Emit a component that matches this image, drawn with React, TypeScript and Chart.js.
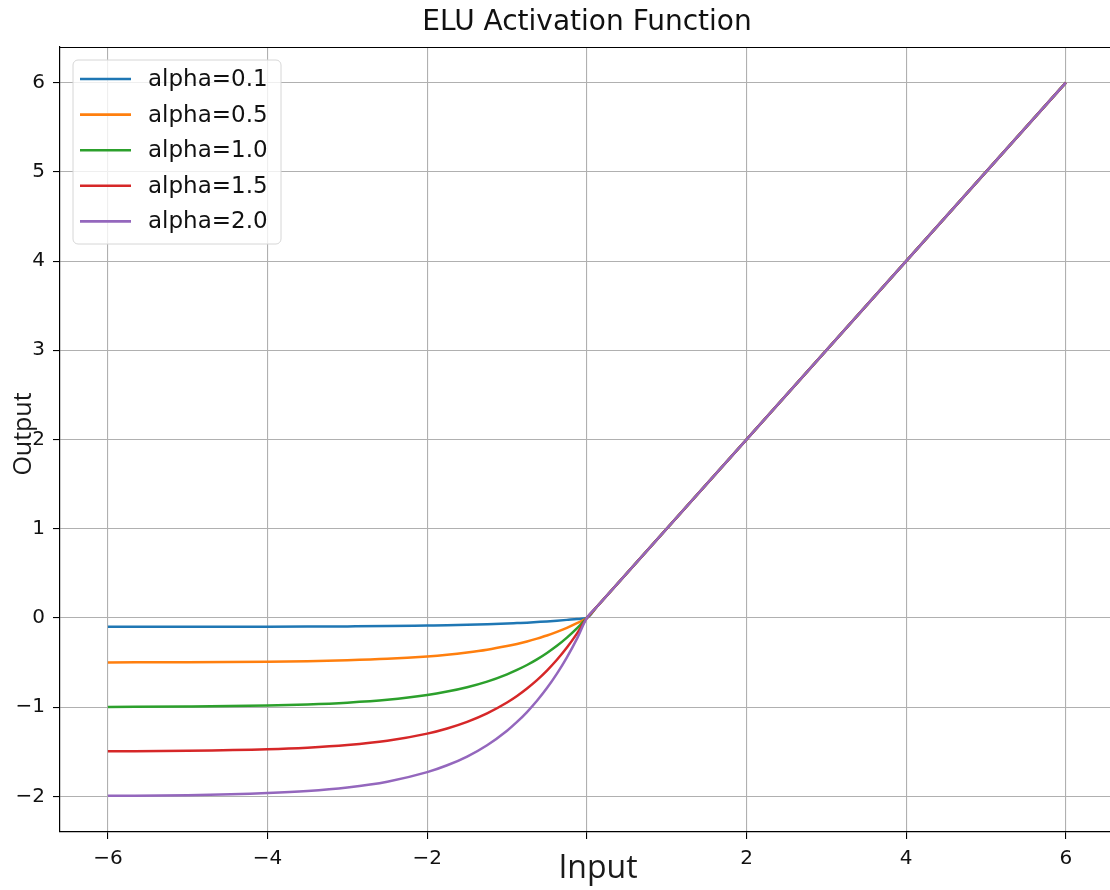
import React, { useEffect, useRef } from 'react';
import { Chart, registerables } from 'chart.js';

Chart.register(...registerables);

// Input values (x) sampled along the curves
const inputX = [-6, -5, -4, -3.5, -3, -2.5, -2, -1.75, -1.5, -1.25, -1, -0.875, -0.75, -0.625, -0.5, -0.375, -0.25, -0.125, 0, 0.125, 6];

// Output values per alpha
const alpha01 = [-0.1, -0.099, -0.098, -0.097, -0.095, -0.092, -0.086, -0.083, -0.078, -0.071, -0.063, -0.058, -0.053, -0.046, -0.039, -0.031, -0.022, -0.012, 0, 0.125, 6];
const alpha05 = [-0.499, -0.497, -0.491, -0.485, -0.475, -0.459, -0.432, -0.413, -0.388, -0.357, -0.316, -0.292, -0.264, -0.232, -0.197, -0.156, -0.111, -0.059, 0, 0.125, 6];
const alpha10 = [-0.998, -0.993, -0.982, -0.97, -0.95, -0.918, -0.865, -0.826, -0.777, -0.714, -0.632, -0.583, -0.528, -0.465, -0.393, -0.313, -0.221, -0.118, 0, 0.125, 6];
const alpha15 = [-1.496, -1.49, -1.473, -1.455, -1.425, -1.377, -1.297, -1.239, -1.165, -1.07, -0.948, -0.875, -0.791, -0.697, -0.59, -0.469, -0.332, -0.176, 0, 0.125, 6];
const alpha20 = [-1.995, -1.987, -1.963, -1.94, -1.9, -1.836, -1.729, -1.652, -1.554, -1.427, -1.264, -1.166, -1.055, -0.929, -0.787, -0.625, -0.442, -0.235, 0, 0.125, 6];

const seriesLabels = ['alpha=0.1', 'alpha=0.5', 'alpha=1.0', 'alpha=1.5', 'alpha=2.0'];
const seriesColors = ['#1f77b4', '#ff7f0e', '#2ca02c', '#d62728', '#9467bd'];

const xTicks = [-6, -4, -2, 0, 2, 4, 6];
const xTickLabels = ['\u22126', '\u22124', '\u22122', '', '2', '4', '6'];
const yTicks = [-2, -1, 0, 1, 2, 3, 4, 5, 6];
const yTickLabels = ['\u22122', '\u22121', '0', '1', '2', '3', '4', '5', '6'];

const titleText = 'ELU Activation Function';
const xLabel = 'Input';
const yLabel = 'Output';

export default function App() {
  const ref = useRef<HTMLCanvasElement>(null);

  useEffect(() => {
    document.body.style.margin = '0';
    const canvas = ref.current;
    if (!canvas) return;
    const series = [alpha01, alpha05, alpha10, alpha15, alpha20];

    const decor = {
      id: 'mplDecor',
      afterDraw(chart: any) {
        const ctx = chart.ctx as CanvasRenderingContext2D;
        const a = chart.chartArea;
        ctx.save();
        // top spine
        ctx.strokeStyle = '#000';
        ctx.lineWidth = 1.2;
        ctx.beginPath();
        ctx.moveTo(a.left, a.top + 0.5);
        ctx.lineTo(a.right, a.top + 0.5);
        ctx.stroke();

        // title
        ctx.fillStyle = '#111';
        ctx.font = '28px "DejaVu Sans"';
        ctx.textAlign = 'center';
        ctx.textBaseline = 'alphabetic';
        ctx.fillText(titleText, 587, 30);

        // x label
        ctx.font = '32px "Open Sans"';
        ctx.fillStyle = '#1a1a1a';
        ctx.fillText(xLabel, 598, 878);

        // y label
        ctx.save();
        ctx.translate(31, 434);
        ctx.rotate(-Math.PI / 2);
        ctx.font = '25px "Open Sans"';
        ctx.fillText(yLabel, 0, 0);
        ctx.restore();

        // legend
        const lx = 73, ly = 60, lw = 208, lh = 184, r = 5;
        ctx.beginPath();
        ctx.moveTo(lx + r, ly);
        ctx.lineTo(lx + lw - r, ly);
        ctx.arcTo(lx + lw, ly, lx + lw, ly + r, r);
        ctx.lineTo(lx + lw, ly + lh - r);
        ctx.arcTo(lx + lw, ly + lh, lx + lw - r, ly + lh, r);
        ctx.lineTo(lx + r, ly + lh);
        ctx.arcTo(lx, ly + lh, lx, ly + lh - r, r);
        ctx.lineTo(lx, ly + r);
        ctx.arcTo(lx, ly, lx + r, ly, r);
        ctx.closePath();
        ctx.fillStyle = 'rgba(255,255,255,0.8)';
        ctx.fill();
        ctx.strokeStyle = '#d6d6d6';
        ctx.lineWidth = 1;
        ctx.stroke();

        ctx.font = '23px "DejaVu Sans"';
        ctx.textAlign = 'left';
        ctx.textBaseline = 'middle';
        seriesLabels.forEach((lab, i) => {
          const y = 79 + i * 35.6;
          ctx.strokeStyle = seriesColors[i];
          ctx.lineWidth = 2.6;
          ctx.beginPath();
          ctx.moveTo(80, y);
          ctx.lineTo(131, y);
          ctx.stroke();
          ctx.fillStyle = '#111';
          ctx.fillText(lab, 148, y + 1);
        });
        ctx.restore();
      },
    };

    const chart = new Chart(canvas, {
      type: 'line',
      data: {
        datasets: series.map((s, i) => ({
          label: seriesLabels[i],
          data: inputX.map((x, j) => ({ x, y: s[j] })),
          borderColor: seriesColors[i],
          backgroundColor: seriesColors[i],
          borderWidth: 2.5,
          pointRadius: 0,
          cubicInterpolationMode: 'monotone',
          fill: false,
          order: series.length - i,
        })),
      },
      options: {
        animation: false,
        responsive: false,
        layout: { padding: { top: 47, right: 0, left: 0, bottom: 0 } },
        plugins: {
          legend: { display: false },
          tooltip: { enabled: false },
          title: { display: false },
        },
        scales: {
          x: {
            type: 'linear',
            min: -6.6,
            max: 6.553,
            afterBuildTicks: (s: any) => {
              s.ticks = xTicks.map((v) => ({ value: v }));
            },
            afterFit: (s: any) => {
              s.height = 58;
            },
            grid: { color: '#b0b0b0', lineWidth: 1.1, tickLength: 7, tickColor: '#000', tickWidth: 1.1 },
            border: { color: '#000', width: 1.2 },
            ticks: {
              color: '#111',
              font: { family: 'DejaVu Sans', size: 20 },
              padding: 8,
              maxRotation: 0,
              autoSkip: false,
              callback: (_v: any, idx: number) => xTickLabels[idx],
            },
          },
          y: {
            type: 'linear',
            min: -2.4,
            max: 6.4,
            afterBuildTicks: (s: any) => {
              s.ticks = yTicks.map((v) => ({ value: v }));
            },
            afterFit: (s: any) => {
              s.width = 60;
            },
            grid: { color: '#b0b0b0', lineWidth: 1.1, tickLength: 7, tickColor: '#000', tickWidth: 1.1 },
            border: { color: '#000', width: 1.2 },
            ticks: {
              color: '#111',
              font: { family: 'DejaVu Sans', size: 20 },
              padding: 8,
              autoSkip: false,
              callback: (_v: any, idx: number) => yTickLabels[idx],
            },
          },
        },
      },
      plugins: [decor],
    });

    return () => chart.destroy();
  }, []);

  return (
    <div style={{ width: 1110, height: 890, background: '#fff' }}>
      <canvas ref={ref} width={1110} height={890} style={{ display: 'block' }} />
    </div>
  );
}
